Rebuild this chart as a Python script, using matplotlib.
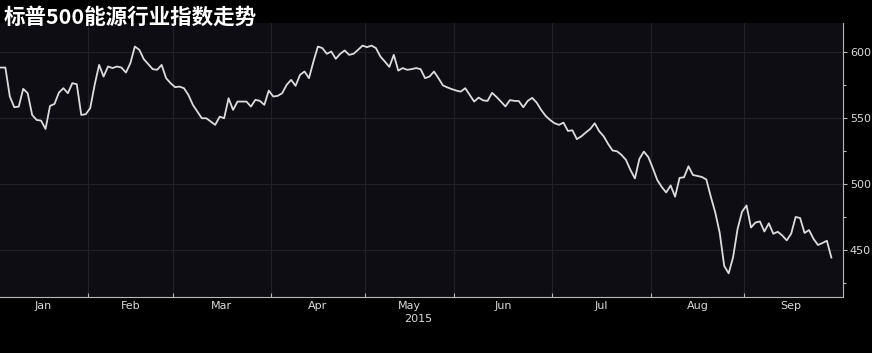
import numpy as np
import matplotlib
matplotlib.use("Agg")
import matplotlib.pyplot as plt

# S&P 500 能源行业指数, 2015 年每个交易日收盘
index_values = [
    587.9, 587.9, 566.0, 557.9, 558.4, 571.8, 568.5, 552.1, 548.3, 547.8,
    541.5, 558.9, 560.4, 569.0, 572.3, 568.5, 576.1, 575.3, 552.1, 552.6,
    557.2, 574.8, 589.9, 581.1, 588.7, 587.5, 588.7, 587.9, 584.1, 591.2,
    603.8, 601.3, 594.3, 590.5, 586.7, 586.2, 589.9, 579.9, 576.1, 573.1,
    573.5, 572.3, 567.2, 559.7, 554.6, 549.6, 549.6, 547.1, 544.6, 550.8,
    549.6, 564.7, 555.9, 562.2, 562.2, 562.2, 558.4, 563.5, 562.7, 559.7,
    570.5, 566.0, 566.5, 568.5, 574.8, 578.6, 574.1, 582.4, 584.9, 579.9,
    592.4, 603.8, 602.6, 598.3, 600.0, 594.5, 598.3, 600.8, 597.5, 598.3,
    601.3, 604.5, 603.3, 604.5, 602.6, 596.2, 592.4, 588.4, 597.5, 585.6,
    587.5, 586.2, 586.7, 587.5, 586.7, 579.9, 581.1, 584.9, 579.9, 574.4,
    572.9, 571.6, 570.5, 569.7, 572.3, 567.2, 562.2, 565.2, 563.1, 562.7,
    568.8, 565.7, 562.2, 558.5, 563.3, 562.7, 562.6, 557.9, 562.7, 565.0,
    561.4, 555.9, 551.4, 548.3, 545.8, 544.6, 546.3, 540.0, 540.5, 533.8,
    535.9, 538.8, 541.5, 545.8, 539.8, 536.0, 530.2, 525.2, 524.6, 521.9,
    518.1, 510.5, 504.1, 518.8, 524.4, 520.3, 512.0, 503.0, 497.7, 493.5,
    498.8, 490.3, 504.5, 505.0, 513.3, 506.7, 506.0, 505.2, 503.3, 490.3,
    478.4, 462.9, 438.0, 432.4, 444.7, 466.0, 479.0, 483.7, 467.0, 470.8,
    471.6, 464.0, 470.2, 462.3, 463.8, 461.0, 457.3, 462.3, 475.0, 474.2,
    462.9, 465.1, 458.5, 453.8, 455.3, 457.0, 444.3,
]

month_names = ["Jan", "Feb", "Mar", "Apr", "May", "Jun", "Jul", "Aug", "Sep"]
trading_days = [20, 19, 22, 21, 20, 22, 22, 21, 21]
y_major = [450, 500, 550, 600]
y_minor = [425, 475, 525, 575]
year_label = "2015"
title = "标普500能源行业指数走势"

bg = "#000000"
panel = "#0e0d13"
grid_c = "#212027"
axis_c = "#b8b8b8"
text_c = "#dadada"

fig = plt.figure(figsize=(8.72, 3.53), dpi=100, facecolor=bg)
ax = fig.add_axes([0.0, 0.1586, 0.9667, 0.776])
ax.set_facecolor(panel)

x = np.arange(len(index_values))
ax.plot(x, index_values, color="#dcdcdc", lw=1.3, solid_joinstyle="round", zorder=3)

bounds = np.cumsum(trading_days) - 0.5
starts = np.concatenate([[-0.5], bounds[:-1]])
mids = (starts + bounds) / 2

ax.set_xlim(-0.2, 188.6)
ax.set_ylim(414.5, 621.5)

# x axis: month labels in the middle, small ticks on month boundaries
ax.set_xticks(mids)
ax.set_xticklabels(month_names)
ax.set_xticks(bounds[:-1], minor=True)
ax.tick_params(axis="x", which="major", length=0, pad=3, labelsize=8, labelcolor=text_c)
ax.tick_params(axis="x", which="minor", length=3, direction="in", color=axis_c, width=0.8)
for b in bounds[:-1]:
    ax.axvline(b, color=grid_c, lw=0.8, zorder=1)

# y axis on the right
ax.yaxis.tick_right()
ax.set_yticks(y_major)
ax.set_yticks(y_minor, minor=True)
ax.tick_params(axis="y", which="major", length=3, width=0.8, direction="out",
               color=axis_c, labelsize=8, labelcolor=text_c, pad=2)
ax.tick_params(axis="y", which="minor", length=2, width=0.8, direction="out", color=axis_c)
for v in y_major:
    ax.axhline(v, color=grid_c, lw=0.8, zorder=1)

for s in ["top", "left"]:
    ax.spines[s].set_visible(False)
for s in ["bottom", "right"]:
    ax.spines[s].set_color(axis_c)
    ax.spines[s].set_linewidth(0.8)

ax.text(mids[4] + 2, -0.082, year_label, transform=ax.get_xaxis_transform(),
        ha="center", va="center", fontsize=8, color=text_c)

fig.text(0.004, 0.982, title, ha="left", va="top", fontsize=15.5, fontweight="bold",
         color="white", family=["Noto Sans CJK SC", "DejaVu Sans"])

fig.savefig("out.png", dpi=100, facecolor=bg)
